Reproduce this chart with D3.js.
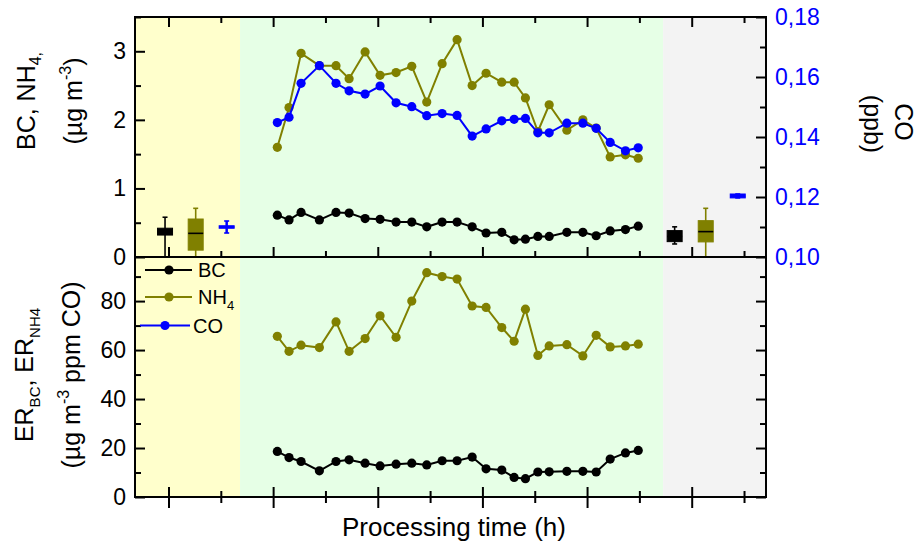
<!DOCTYPE html>
<html><head><meta charset="utf-8">
<script src="https://cdn.jsdelivr.net/npm/d3@7"></script>
<style>body{margin:0;background:#fff}svg{display:block;font-family:"Liberation Sans",Arial,sans-serif}</style>
</head><body><svg id="c" width="921" height="550"></svg>
<script>
// ---- data ----
const time=[1.040,1.152,1.267,1.442,1.601,1.726,1.879,2.022,2.175,2.325,2.468,2.615,2.758,2.902,3.035,3.185,3.303,3.411,3.530,3.638,3.807,3.960,4.087,4.221,4.367,4.489];
const bc=[0.61,0.54,0.65,0.54,0.65,0.64,0.56,0.55,0.51,0.51,0.44,0.51,0.51,0.44,0.35,0.36,0.25,0.26,0.30,0.30,0.36,0.36,0.31,0.38,0.40,0.45];
const nh4=[1.60,2.18,2.97,2.79,2.79,2.60,2.99,2.65,2.69,2.78,2.26,2.82,3.17,2.50,2.68,2.55,2.55,2.32,1.83,2.22,1.85,2.00,1.88,1.46,1.49,1.44];
const co=[0.1448,0.1466,0.1579,0.1638,0.1579,0.1554,0.1543,0.1570,0.1514,0.1501,0.1471,0.1478,0.1472,0.1403,0.1427,0.1454,0.1459,0.1462,0.1414,0.1414,0.1446,0.1446,0.1429,0.1382,0.1354,0.1364];
const erBC=[18.6,16.1,14.5,10.7,14.5,15.2,13.8,12.7,13.4,13.8,13.1,14.8,14.8,16.3,11.5,11.0,8.0,7.5,10.2,10.3,10.5,10.5,10.2,15.5,18.0,19.0];
const erNH4=[65.6,59.5,62.0,61.0,71.5,59.5,64.7,74.0,65.2,80.0,91.6,90.0,89.0,78.0,77.4,69.2,63.6,76.7,57.8,61.7,62.2,57.6,66.0,61.3,61.7,62.4];
const boxSeries=["BC","NH4","CO","BC","NH4","CO"];
const boxPos=[-0.033,0.26,0.556,4.837,5.134,5.44];
const boxStats=[[0,0.32,0.37,0.42,0.58],[0,0.10,0.345,0.554,0.71],[0.108,0.1097,0.1100,0.1103,0.112],
                [0.19,0.224,0.30,0.385,0.44],[0,0.22,0.37,0.53,0.71],[0.1197,0.1197,0.1203,0.1210,0.1210]];
const phaseStart=[-0.32,0.684,4.727];
const phaseEnd=[0.684,4.727,5.71];
const xMajor=[0,1,2,3,4,5], xMinor=[0.5,1.5,2.5,3.5,4.5,5.5];
const yTopMajor=[0,1,2,3], yTopMinor=[0.5,1.5,2.5,3.5];
const coMajor=[0.10,0.12,0.14,0.16,0.18], coMinor=[0.11,0.13,0.15,0.17];
const erMajor=[0,20,40,60,80], erMinor=[10,30,50,70,90];

// ---- layout / style ----
const L=135,R=766,T=17,M=257,B=497;
const phaseColor=["#ffffcc","#e6ffe6","#f3f3f3"];
const col={BC:"#000000",NH4:"#808000",CO:"#0000ff"};
const svg=d3.select("#c");
const x=d3.scaleLinear().domain([-0.32,5.71]).range([L,R]);
const yTop=d3.scaleLinear().domain([0,3.5]).range([M,T]);
const yCO=d3.scaleLinear().domain([0.10,0.18]).range([M,T]);
const yER=d3.scaleLinear().domain([0,98]).range([B,M]);

// bands
svg.selectAll("rect.band").data(phaseStart).join("rect")
  .attr("x",(d)=>x(d)).attr("y",T).attr("width",(d,i)=>x(phaseEnd[i])-x(d)).attr("height",B-T)
  .attr("fill",(d,i)=>phaseColor[i]);

function series(vals,yS,c){
  const pts=time.map((t,i)=>[x(t),yS(vals[i])]);
  svg.append("path").attr("d",d3.line()(pts)).attr("fill","none").attr("stroke",c).attr("stroke-width",2);
  svg.append("g").selectAll("circle").data(pts).join("circle").attr("cx",d=>d[0]).attr("cy",d=>d[1]).attr("r",4.6).attr("fill",c);
}
series(bc,yTop,col.BC);
series(nh4,yTop,col.NH4);
series(co,yCO,col.CO);
series(erBC,yER,col.BC);
series(erNH4,yER,col.NH4);

// boxes
boxSeries.forEach((s,i)=>{
  const yS=s==="CO"?yCO:yTop; const st=boxStats[i]; const cx=x(boxPos[i]); const w=15; const c=col[s];
  const g=svg.append("g");
  g.append("line").attr("x1",cx).attr("x2",cx).attr("y1",yS(st[0])).attr("y2",yS(st[4])).attr("stroke",c).attr("stroke-width",s==="CO"?2.5:1.6);
  [st[0],st[4]].forEach(v=>g.append("line").attr("x1",cx-2.5).attr("x2",cx+2.5).attr("y1",yS(v)).attr("y2",yS(v)).attr("stroke",c).attr("stroke-width",1.6));
  const h=Math.max(yS(st[1])-yS(st[3]),2.5);
  g.append("rect").attr("x",cx-w/2).attr("y",(yS(st[1])+yS(st[3]))/2-h/2).attr("width",w).attr("height",h)
    .attr("fill",c).attr("stroke",c).attr("stroke-width",1);
  g.append("line").attr("x1",cx-w/2).attr("x2",cx+w/2).attr("y1",yS(st[2])).attr("y2",yS(st[2]))
    .attr("stroke",s==="CO"?c:"#000").attr("stroke-width",1.6);
});

// axes
function ax(gen,tx,ty,vals,size,labels,pad){
  const a=gen.tickValues(vals).tickSize(size).tickPadding(pad||9);
  if(!labels) a.tickFormat("");
  const g=svg.append("g").attr("transform",`translate(${tx},${ty})`).call(a);
  g.select(".domain").remove();
  g.selectAll("line").attr("stroke","#000").attr("stroke-width",2);
  g.selectAll("text").attr("font-size",23).attr("font-family","Liberation Sans, Arial, sans-serif");
  return g;
}
const fmtCO=d=>d3.format(".2f")(d).replace(".",",");
const fmtInt=d3.format("d");
// top panel
ax(d3.axisLeft(yTop).tickFormat(fmtInt),L,0,yTopMajor,-10,true).selectAll("text").attr("x",-9);
ax(d3.axisLeft(yTop),L,0,yTopMinor,-6,false);
const gco=ax(d3.axisRight(yCO).tickFormat(fmtCO),R,0,coMajor,-10,true);
gco.selectAll("text").attr("x",9).attr("fill","#0000ff");
ax(d3.axisRight(yCO),R,0,coMinor,-6,false);
ax(d3.axisTop(x),0,T,xMajor,-10,false);
ax(d3.axisTop(x),0,T,xMinor,-6,false);
ax(d3.axisBottom(x),0,M,xMajor,-10,false);
ax(d3.axisBottom(x),0,M,xMinor,-6,false);
// bottom panel
ax(d3.axisLeft(yER).tickFormat(fmtInt),L,0,erMajor,-10,true).selectAll("text").attr("x",-9);
ax(d3.axisLeft(yER),L,0,erMinor,-6,false);
ax(d3.axisRight(yER),R,0,erMajor,-10,false);
ax(d3.axisRight(yER),R,0,erMinor,-6,false);
ax(d3.axisBottom(x),0,B,xMajor,11,false);
ax(d3.axisBottom(x),0,B,xMajor,-10,false);
ax(d3.axisBottom(x),0,B,xMinor,6,false);
ax(d3.axisBottom(x),0,B,xMinor,-6,false);

// frames
[[T,M],[M,B]].forEach(([a,b])=>svg.append("rect").attr("x",L).attr("y",a).attr("width",R-L).attr("height",b-a)
  .attr("fill","none").attr("stroke","#000").attr("stroke-width",2));

// legend
const legNames=["BC","NH4","CO"], legY=[270,297,325.5];
legNames.forEach((n,i)=>{
  const g=svg.append("g");
  g.append("line").attr("x1",i==2?140:145).attr("x2",i==2?190:192).attr("y1",legY[i]).attr("y2",legY[i]).attr("stroke",col[n]).attr("stroke-width",2);
  g.append("circle").attr("cx",i==2?165:169).attr("cy",legY[i]).attr("r",4.6).attr("fill",col[n]);
  const t=g.append("text").attr("x",i==2?193:198).attr("y",legY[i]+7).attr("font-size",20).attr("fill","#000");
  if(n==="NH4"){t.append("tspan").text("NH");t.append("tspan").attr("font-size",13).attr("dy",6).text("4");}
  else t.text(n);
});

// axis titles
function rtext(cx,cy,rot,size){return svg.append("text").attr("transform",`translate(${cx},${cy}) rotate(${rot})`).attr("text-anchor","middle").attr("font-size",size).attr("fill","#000");}
let t=rtext(35,101,-90,25);
t.append("tspan").text("BC, NH");t.append("tspan").attr("font-size",16).attr("dy",6).text("4,");
t=rtext(82,101,-90,25);
t.append("tspan").text("(µg m");t.append("tspan").attr("font-size",16).attr("dy",-11).text("-3");t.append("tspan").attr("dy",11).text(")");
t=rtext(33,375,-90,25);
t.append("tspan").text("ER");t.append("tspan").attr("font-size",15).attr("dy",7).text("BC");
t.append("tspan").attr("dy",-7).text(", ER");t.append("tspan").attr("font-size",15).attr("dy",7).text("NH4");
t=rtext(80,375,-90,25);
t.append("tspan").text("(µg m");t.append("tspan").attr("font-size",16).attr("dy",-11).text("-3");t.append("tspan").attr("dy",11).text(" ppm CO)");
rtext(895,122,90,25).text("CO");
rtext(864,124,90,25).text("(ppb)");
svg.append("text").attr("x",454).attr("y",536).attr("text-anchor","middle").attr("font-size",26).attr("fill","#000").text("Processing time (h)");
</script></body></html>
